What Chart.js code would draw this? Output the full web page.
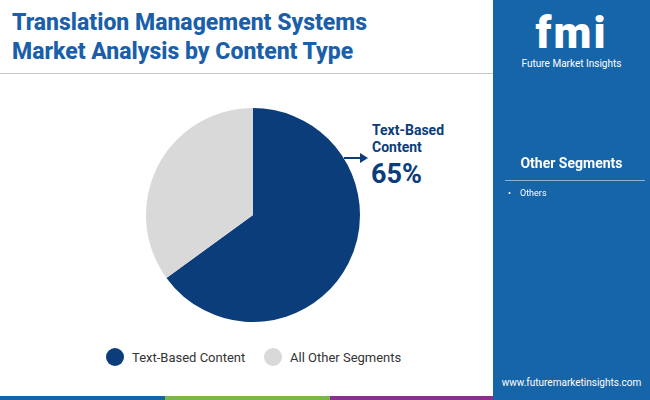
<!DOCTYPE html><html><head><meta charset="utf-8">
<script src="https://cdn.jsdelivr.net/npm/chart.js@4"></script>
<style>
body{margin:0;width:650px;height:400px;position:relative;overflow:hidden;background:#fff;font-family:Roboto,"Open Sans",sans-serif}
#title{position:absolute;left:12px;top:8px;font:800 23px/29px Roboto,sans-serif;color:#1b5faa}
#line{position:absolute;left:0;top:73px;width:493px;height:1px;background:#c9c9c9}
#panel{position:absolute;left:493px;top:0;width:157px;height:400px;background:#1765a9}
#wrap{position:absolute;left:144px;top:106px;width:218px;height:218px}
.ann{position:absolute;color:#0b3d7a;font-weight:700}
.leg{position:absolute;top:348px;font-size:13px;color:#333;display:flex;align-items:center}
.dot{width:18px;height:18px;border-radius:50%;margin-right:8px}
</style></head><body>
<div id="title">Translation Management Systems<br>Market Analysis by Content Type</div>
<div id="line"></div>
<div id="wrap"><canvas id="c"></canvas></div>
<div class="ann" style="left:372px;top:122px;font-size:14px;line-height:17px">Text-Based<br>Content</div>
<div class="ann" style="left:371px;top:158px;font-size:27px">65%</div>
<svg style="position:absolute;left:344px;top:151px" width="26" height="14"><line x1="0" y1="7" x2="18" y2="7" stroke="#0b3d7a" stroke-width="2"/><polygon points="16,2 24,7 16,12" fill="#0b3d7a"/></svg>
<div class="leg" style="left:106px"><div class="dot" style="background:#0b3d7a"></div>Text-Based Content</div>
<div class="leg" style="left:264px"><div class="dot" style="background:#d9d9d9"></div>All Other Segments</div>
<div style="position:absolute;left:0;top:396px;width:165px;height:4px;background:#1765a9"></div>
<div style="position:absolute;left:165px;top:396px;width:165px;height:4px;background:#7ab648"></div>
<div style="position:absolute;left:330px;top:396px;width:163px;height:4px;background:#8a2f8e"></div>
<div id="panel">
 <div style="position:absolute;left:0;width:157px;top:8px;text-align:center;color:#fff;font:900 44px/50px Roboto,sans-serif;letter-spacing:2px">fmi</div>
 <div style="position:absolute;left:0;width:157px;top:58px;text-align:center;color:#fff;font-size:10px">Future Market Insights</div>
 <div style="position:absolute;left:0;width:157px;top:155px;text-align:center;color:#fff;font:700 14px Roboto,sans-serif">Other Segments</div>
 <div style="position:absolute;left:12px;width:140px;top:180px;height:1px;background:#8fb3d8"></div>
 <div style="position:absolute;left:15px;top:188px;color:#fff;font-size:9px">•&nbsp;&nbsp;&nbsp;&nbsp;Others</div>
 <div style="position:absolute;left:0;width:157px;top:377px;text-align:center;color:#fff;font-size:10px">www.futuremarketinsights.com</div>
</div>
<script>
const categories=["Text-Based Content","All Other Segments"];
const shares=[65,35];
const colors=["#0b3d7a","#d9d9d9"];
new Chart(document.getElementById('c'),{type:'pie',
data:{labels:categories,datasets:[{data:shares,backgroundColor:colors,borderWidth:0}]},
options:{responsive:true,maintainAspectRatio:false,animation:false,layout:{padding:2},
plugins:{legend:{display:false},tooltip:{enabled:false}}}});
</script></body></html>
